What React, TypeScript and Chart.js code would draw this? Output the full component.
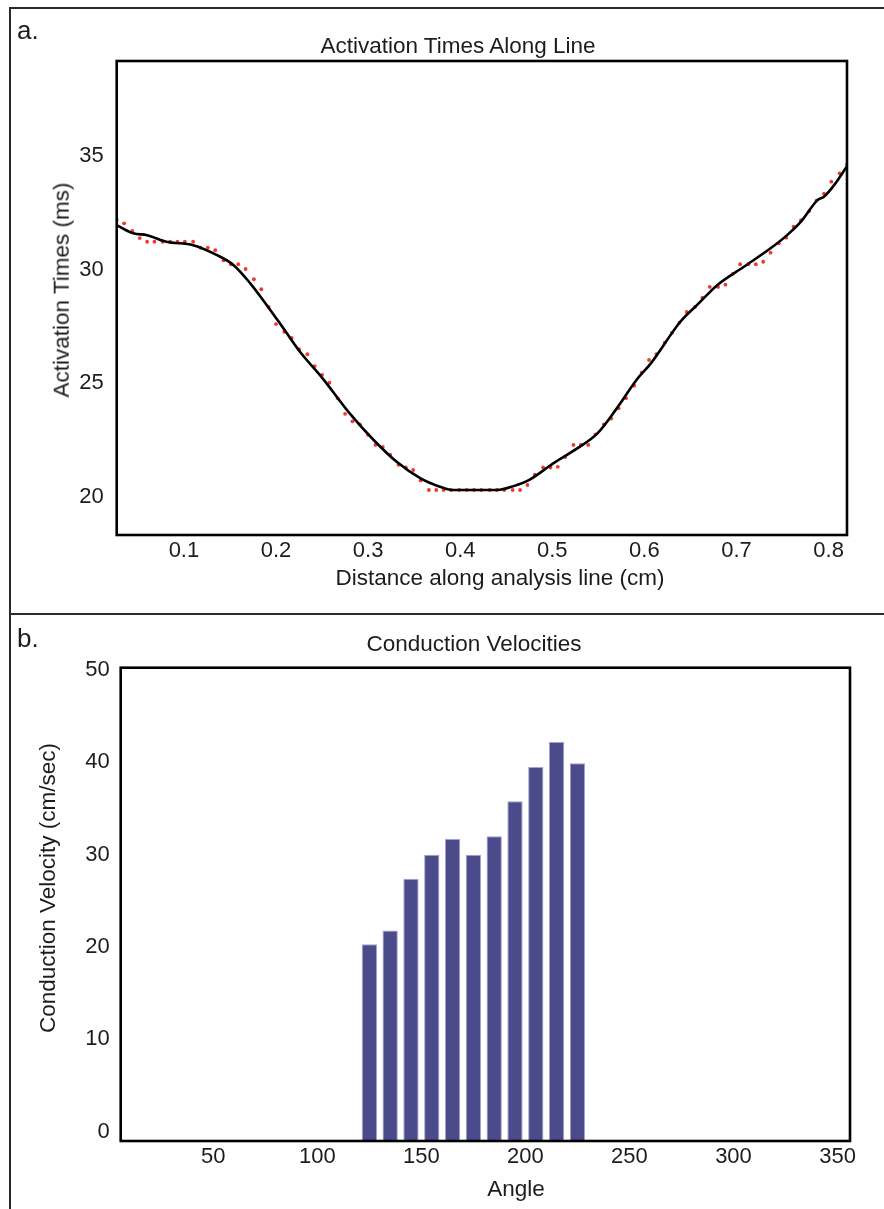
import React, { useEffect, useRef } from 'react';
import { Chart, registerables } from 'chart.js';

Chart.register(...registerables);

const FONT = '"Liberation Sans", Arial, Helvetica, sans-serif';
const TEXT = '#1c1c1c';

// ---------- Panel a: activation times ----------
const dotDistance = [
  0.027, 0.035, 0.044, 0.052, 0.060, 0.068, 0.077, 0.085, 0.093, 0.101,
  0.110, 0.118, 0.126, 0.134, 0.143, 0.151, 0.159, 0.167, 0.176, 0.184,
  0.192, 0.200, 0.209, 0.217, 0.225, 0.234, 0.242, 0.250, 0.258, 0.267,
  0.275, 0.283, 0.291, 0.300, 0.308, 0.316, 0.324, 0.333, 0.341, 0.349,
  0.357, 0.366, 0.374, 0.382, 0.390, 0.399, 0.407, 0.415, 0.423, 0.432,
  0.440, 0.448, 0.457, 0.465, 0.473, 0.481, 0.490, 0.498, 0.506, 0.514,
  0.523, 0.531, 0.539, 0.547, 0.556, 0.564, 0.572, 0.580, 0.589, 0.597,
  0.605, 0.613, 0.622, 0.630, 0.638, 0.646, 0.655, 0.663, 0.671, 0.680,
  0.688, 0.696, 0.704, 0.713, 0.721, 0.729, 0.737, 0.746, 0.754, 0.762,
  0.770, 0.779, 0.787, 0.795, 0.803, 0.812, 0.820,
];
const dotTimes = [
  32.21, 32.04, 31.71, 31.39, 31.23, 31.23, 31.23, 31.23, 31.23, 31.23,
  31.23, 30.97, 30.97, 30.86, 30.41, 30.24, 30.24, 30.03, 29.58, 29.14,
  28.36, 27.61, 27.27, 27.00, 26.50, 26.28, 25.76, 25.37, 25.03, 24.34,
  23.66, 23.33, 23.20, 22.73, 22.29, 22.21, 21.86, 21.42, 21.30, 21.19,
  20.73, 20.31, 20.31, 20.31, 20.31, 20.31, 20.31, 20.31, 20.31, 20.31,
  20.31, 20.31, 20.31, 20.31, 20.53, 20.98, 21.30, 21.30, 21.33, 21.76,
  22.29, 22.29, 22.29, 22.76, 23.20, 23.45, 23.90, 24.35, 24.90, 25.47,
  26.03, 26.29, 26.79, 27.23, 27.67, 28.14, 28.36, 28.77, 29.24, 29.24,
  29.34, 29.82, 30.24, 30.24, 30.24, 30.35, 30.75, 31.16, 31.41, 31.89,
  32.18, 32.58, 33.05, 33.34, 33.87, 34.24, 34.63,
];
const lineDistance = [
  0.027, 0.045, 0.060, 0.081, 0.110, 0.136, 0.154, 0.172, 0.190, 0.208,
  0.226, 0.251, 0.280, 0.306, 0.331, 0.357, 0.378, 0.391, 0.440, 0.458,
  0.476, 0.501, 0.527, 0.549, 0.570, 0.592, 0.607, 0.639, 0.657, 0.679,
  0.708, 0.737, 0.755, 0.770, 0.788, 0.795, 0.806, 0.820,
];
const lineTimes = [
  31.96, 31.60, 31.52, 31.23, 31.08, 30.64, 30.20, 29.40, 28.44, 27.42,
  26.39, 25.20, 23.68, 22.51, 21.55, 20.82, 20.45, 20.31, 20.31, 20.48,
  20.78, 21.48, 22.14, 22.80, 23.90, 25.18, 25.88, 27.71, 28.44, 29.32,
  30.13, 30.94, 31.52, 32.11, 33.06, 33.21, 33.72, 34.55,
];
const distanceTicks = [0.1, 0.2, 0.3, 0.4, 0.5, 0.6, 0.7, 0.8];
const timeTicks = [20, 25, 30, 35];

// ---------- Panel b: conduction velocities ----------
const angles = [125, 135, 145, 155, 165, 175, 185, 195, 205, 215, 225];
const velocities = [20.3, 21.8, 27.4, 30.0, 31.7, 30.0, 32.0, 35.8, 39.5, 42.2, 39.9];
const angleTicks = [50, 100, 150, 200, 250, 300, 350];
const velocityTicks = [0, 10, 20, 30, 40, 50];

const framePlugin = {
  id: 'plotFrame',
  afterDatasetsDraw(chart: any) {
    const { ctx, chartArea: a } = chart;
    ctx.save();
    ctx.strokeStyle = '#000';
    ctx.lineWidth = 2.6;
    ctx.strokeRect(a.left, a.top, a.right - a.left, a.bottom - a.top);
    ctx.restore();
  },
};

const font = (size: number) => ({ family: FONT, size, weight: 'normal' as const });
const fixedTicks = (vals: number[]) => (s: any) => {
  s.ticks = vals.map((value) => ({ value }));
};

function ActivationChart() {
  const ref = useRef<HTMLCanvasElement>(null);
  useEffect(() => {
    if (!ref.current) return;
    const chart = new Chart(ref.current, {
      type: 'line',
      data: {
        datasets: [
          {
            data: lineDistance.map((x, i) => ({ x, y: lineTimes[i] })),
            borderColor: '#000',
            borderWidth: 2.6,
            pointRadius: 0,
            cubicInterpolationMode: 'monotone',
            fill: false,
          },
          {
            data: dotDistance.map((x, i) => ({ x, y: dotTimes[i] })),
            showLine: false,
            pointRadius: 1.9,
            pointBorderWidth: 0,
            pointBackgroundColor: '#f0392e',
            borderColor: '#f0392e',
          },
        ],
      },
      options: {
        animation: false,
        responsive: false,
        events: [],
        layout: { padding: { left: 0, right: 37, top: 61, bottom: 0 } },
        plugins: {
          legend: { display: false },
          tooltip: { enabled: false },
          title: { display: false },
        },
        scales: {
          x: {
            type: 'linear',
            min: 0.027,
            max: 0.82,
            grid: { display: false, drawTicks: false },
            border: { display: false },
            afterBuildTicks: fixedTicks(distanceTicks),
            ticks: {
              color: TEXT,
              font: font(22),
              padding: 2.3,
              callback: (v: any) => Number(v).toFixed(1),
            },
            afterFit: (s: any) => {
              s.height = 79;
            },
          },
          y: {
            type: 'linear',
            min: 18.33,
            max: 39.18,
            grid: { display: false, drawTicks: false },
            border: { display: false },
            afterBuildTicks: fixedTicks(timeTicks),
            ticks: {
              color: TEXT,
              font: font(22),
              padding: 13,
            },
            afterFit: (s: any) => {
              s.width = 116.7;
            },
          },
        },
      },
      plugins: [framePlugin],
    } as any);
    return () => chart.destroy();
  }, []);
  return <canvas ref={ref} width={884} height={614} style={{ position: 'absolute', left: 0, top: 0 }} />;
}

function VelocityChart() {
  const ref = useRef<HTMLCanvasElement>(null);
  useEffect(() => {
    if (!ref.current) return;
    const chart = new Chart(ref.current, {
      type: 'bar',
      data: {
        datasets: [
          {
            data: angles.map((x, i) => ({ x, y: velocities[i] })),
            backgroundColor: '#4b4a8a',
            borderColor: '#a3a2cc',
            borderWidth: 1,
            base: -1,
            barPercentage: 0.92,
            categoryPercentage: 0.8,
          },
        ],
      },
      options: {
        animation: false,
        responsive: false,
        events: [],
        layout: { padding: { left: 0, right: 34, top: 53.7, bottom: 0 } },
        plugins: {
          legend: { display: false },
          tooltip: { enabled: false },
          title: { display: false },
        },
        scales: {
          x: {
            type: 'linear',
            offset: false,
            min: 5.5,
            max: 356,
            grid: { display: false, drawTicks: false, offset: false },
            border: { display: false },
            afterBuildTicks: fixedTicks(angleTicks),
            ticks: {
              color: TEXT,
              font: font(22),
              padding: 2.8,
            },
            afterFit: (s: any) => {
              s.height = 68;
            },
          },
          y: {
            type: 'linear',
            min: -1,
            max: 50.25,
            grid: { display: false, drawTicks: false },
            border: { display: false },
            afterBuildTicks: fixedTicks(velocityTicks),
            ticks: {
              color: TEXT,
              font: font(22),
              padding: 11,
            },
            afterFit: (s: any) => {
              s.width = 120.7;
            },
          },
        },
      },
      plugins: [framePlugin],
    } as any);
    return () => chart.destroy();
  }, []);
  return <canvas ref={ref} width={884} height={595} style={{ position: 'absolute', left: 0, top: 614 }} />;
}

function Label({ text, x, y, rotate = false, size = 22.5 }: { text: string; x: number; y: number; rotate?: boolean; size?: number }) {
  return (
    <div
      style={{
        position: 'absolute',
        left: x,
        top: y,
        transform: `translate(-50%, -50%)${rotate ? ' rotate(-90deg)' : ''}`,
        fontFamily: FONT,
        fontSize: size,
        lineHeight: 1,
        whiteSpace: 'nowrap',
        color: TEXT,
      }}
    >
      {text}
    </div>
  );
}

export default function App() {
  const line = '#2a2a2a';
  const panelLabel: React.CSSProperties = {
    position: 'absolute',
    left: 17,
    fontFamily: FONT,
    fontSize: 26,
    lineHeight: '26px',
    color: TEXT,
  };
  return (
    <div
      style={{
        position: 'fixed',
        left: 0,
        top: 0,
        width: 884,
        height: 1209,
        background: '#fff',
        overflow: 'hidden',
      }}
    >
      <ActivationChart />
      <VelocityChart />
      <div style={{ position: 'absolute', left: 9, top: 6.5, width: 875, height: 2, background: line }} />
      <div style={{ position: 'absolute', left: 9, top: 6.5, width: 2, height: 1203, background: line }} />
      <div style={{ position: 'absolute', left: 9, top: 613, width: 875, height: 2, background: line }} />
      <div style={{ ...panelLabel, top: 17 }}>a.</div>
      <div style={{ ...panelLabel, top: 625 }}>b.</div>

      <Label text="Activation Times Along Line" x={458} y={46} />
      <Label text="Distance along analysis line (cm)" x={500} y={578} />
      <Label text="Activation Times (ms)" x={62} y={290} rotate />

      <Label text="Conduction Velocities" x={474} y={644} />
      <Label text="Angle" x={516} y={1189} />
      <Label text="Conduction Velocity (cm/sec)" x={48} y={888} rotate />
    </div>
  );
}
